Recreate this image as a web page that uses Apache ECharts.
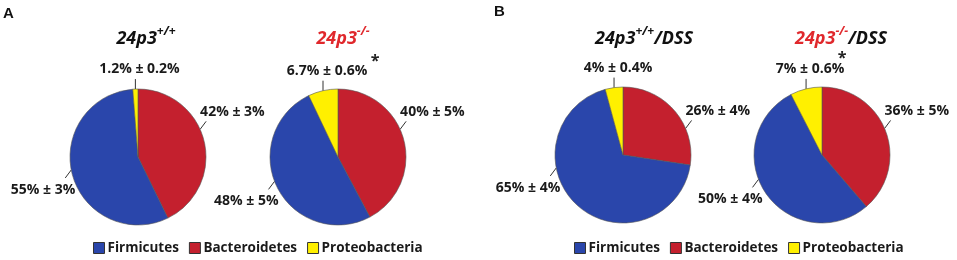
<!DOCTYPE html>
<html><head><meta charset="utf-8">
<script src="https://cdn.jsdelivr.net/npm/echarts@6/dist/echarts.min.js"></script>
<style>html,body{margin:0;padding:0;background:#fff}#c{width:957px;height:260px}</style>
</head><body><div id="c"></div>
<script>
// ---- data ----
const categories = ['Bacteroidetes', 'Firmicutes', 'Proteobacteria'];
const legendOrder = ['Firmicutes', 'Bacteroidetes', 'Proteobacteria'];
const wtMean = [42, 55, 1.2];
const wtSD = [3, 3, 0.2];
const koMean = [40, 48, 6.7];
const koSD = [5, 5, 0.6];
const wtDssMean = [26, 65, 4];
const wtDssSD = [4, 4, 0.4];
const koDssMean = [36, 50, 7];
const koDssSD = [5, 4, 0.6];
const groups = [[wtMean, wtSD], [koMean, koSD], [wtDssMean, wtDssSD], [koDssMean, koDssSD]];

// ---- layout / style ----
const CENTERS = [[138, 157], [338, 157], [623, 155], [822, 155]];
const R = 68;
const LINE_ANGLES = [[66, 259, null], [66, 249, null], [67, 259, null], [67, 249, null]];
const COLORS = { Firmicutes: '#2a46ab', Bacteroidetes: '#c4202e', Proteobacteria: '#fff000' };
const FONT = '"Open Sans", "Noto Sans", sans-serif';

function midAngle(s, i) {
  const v = groups[s][0];
  const total = v.reduce((a, b) => a + b, 0);
  let before = 0;
  for (let k = 0; k < i; k++) before += v[k];
  return (before + v[i] / 2) / total * 360;
}

function labelLayout(p) {
  const s = p.seriesIndex, i = p.dataIndex;
  const cx = CENTERS[s][0], cy = CENTERS[s][1];
  let ang = LINE_ANGLES[s][i];
  if (ang == null) ang = midAngle(s, i);
  const rad = ang * Math.PI / 180;
  const sx = cx + R * Math.sin(rad), sy = cy - R * Math.cos(rad);
  let ex, ey, x, y, align;
  if (i === 0) { ex = sx + 6; ey = sy - 8; x = ex - 6; y = ey - 9; align = 'left'; }
  else if (i === 1) { ex = sx - 6; ey = sy + 8; x = ex + 10; y = ey + 12; align = 'right'; }
  else { ex = sx; ey = sy - 10; x = ex + 4; y = ey - 10; align = 'center'; }
  return { x: x, y: y, align: align, verticalAlign: 'middle', labelLinePoints: [[sx, sy], [ex, ey], [ex, ey]] };
}

const series = groups.map((g, s) => ({
  type: 'pie',
  center: CENTERS[s],
  radius: R,
  startAngle: 90,
  clockwise: true,
  avoidLabelOverlap: false,
  silent: true,
  animation: false,
  itemStyle: { color: p => COLORS[p.name], borderColor: '#555', borderWidth: 0.6 },
  label: {
    show: true, position: 'outside',
    formatter: p => g[0][p.dataIndex] + '% \u00b1 ' + g[1][p.dataIndex] + '%',
    fontFamily: FONT, fontSize: 14, fontWeight: 'bold', color: '#1a1a1a'
  },
  labelLine: { show: true, length: 8, length2: 0, lineStyle: { color: '#333', width: 1 } },
  labelLayout: labelLayout,
  data: categories.map((c, i) => ({ name: c, value: g[0][i] }))
}));

const titleRich = {
  m: { fontFamily: FONT, fontSize: 18, fontWeight: 'bold', fontStyle: 'italic', fill: '#111', verticalAlign: 'bottom', lineHeight: 22 },
  s: { fontFamily: FONT, fontSize: 12, fontWeight: 'bold', fontStyle: 'italic', fill: '#111', verticalAlign: 'top', lineHeight: 14 },
  r: { fontFamily: FONT, fontSize: 18, fontWeight: 'bold', fontStyle: 'italic', fill: '#e0282c', verticalAlign: 'bottom', lineHeight: 22 },
  rs: { fontFamily: FONT, fontSize: 12, fontWeight: 'bold', fontStyle: 'italic', fill: '#e0282c', verticalAlign: 'top', lineHeight: 14 }
};
function title(x, y, text) {
  return { type: 'text', x: x, y: y, style: { text: text, rich: titleRich, align: 'center', verticalAlign: 'middle' } };
}

const legendBase = {
  data: legendOrder, top: 241, padding: 0, itemWidth: 11, itemHeight: 11, itemGap: 10, icon: 'rect',
  itemStyle: { borderColor: '#333', borderWidth: 1 },
  textStyle: { fontFamily: FONT, fontSize: 13.5, fontWeight: 'bold', color: '#1a1a1a', padding: [0, 0, 0, -2] },
  selectedMode: false
};

const option = {
  backgroundColor: '#fff',
  animation: false,
  legend: [Object.assign({ left: 93 }, legendBase), Object.assign({ left: 574 }, legendBase)],
  series: series,
  graphic: [
    { type: 'text', x: 3, y: 6, style: { text: 'A', font: 'bold 15px "Liberation Sans", Arial', fill: '#111' } },
    { type: 'text', x: 494, y: 4, style: { text: 'B', font: 'bold 15px "Liberation Sans", Arial', fill: '#111' } },
    title(146, 37, '{m|24p3}{s|+/+}'),
    title(343, 37, '{r|24p3}{rs|-/-}'),
    title(644, 37, '{m|24p3}{s|+/+}{m|/DSS}'),
    title(841, 37, '{r|24p3}{rs|-/-}{m|/DSS}'),
    { type: 'text', x: 375, y: 61, style: { text: '*', align: 'center', verticalAlign: 'middle', font: 'bold 16px ' + FONT, fill: '#222' } },
    { type: 'text', x: 842, y: 58, style: { text: '*', align: 'center', verticalAlign: 'middle', font: 'bold 16px ' + FONT, fill: '#222' } }
  ]
};

const chart = echarts.init(document.getElementById('c'), null, { renderer: 'canvas' });
chart.setOption(option);
</script>
</body></html>
